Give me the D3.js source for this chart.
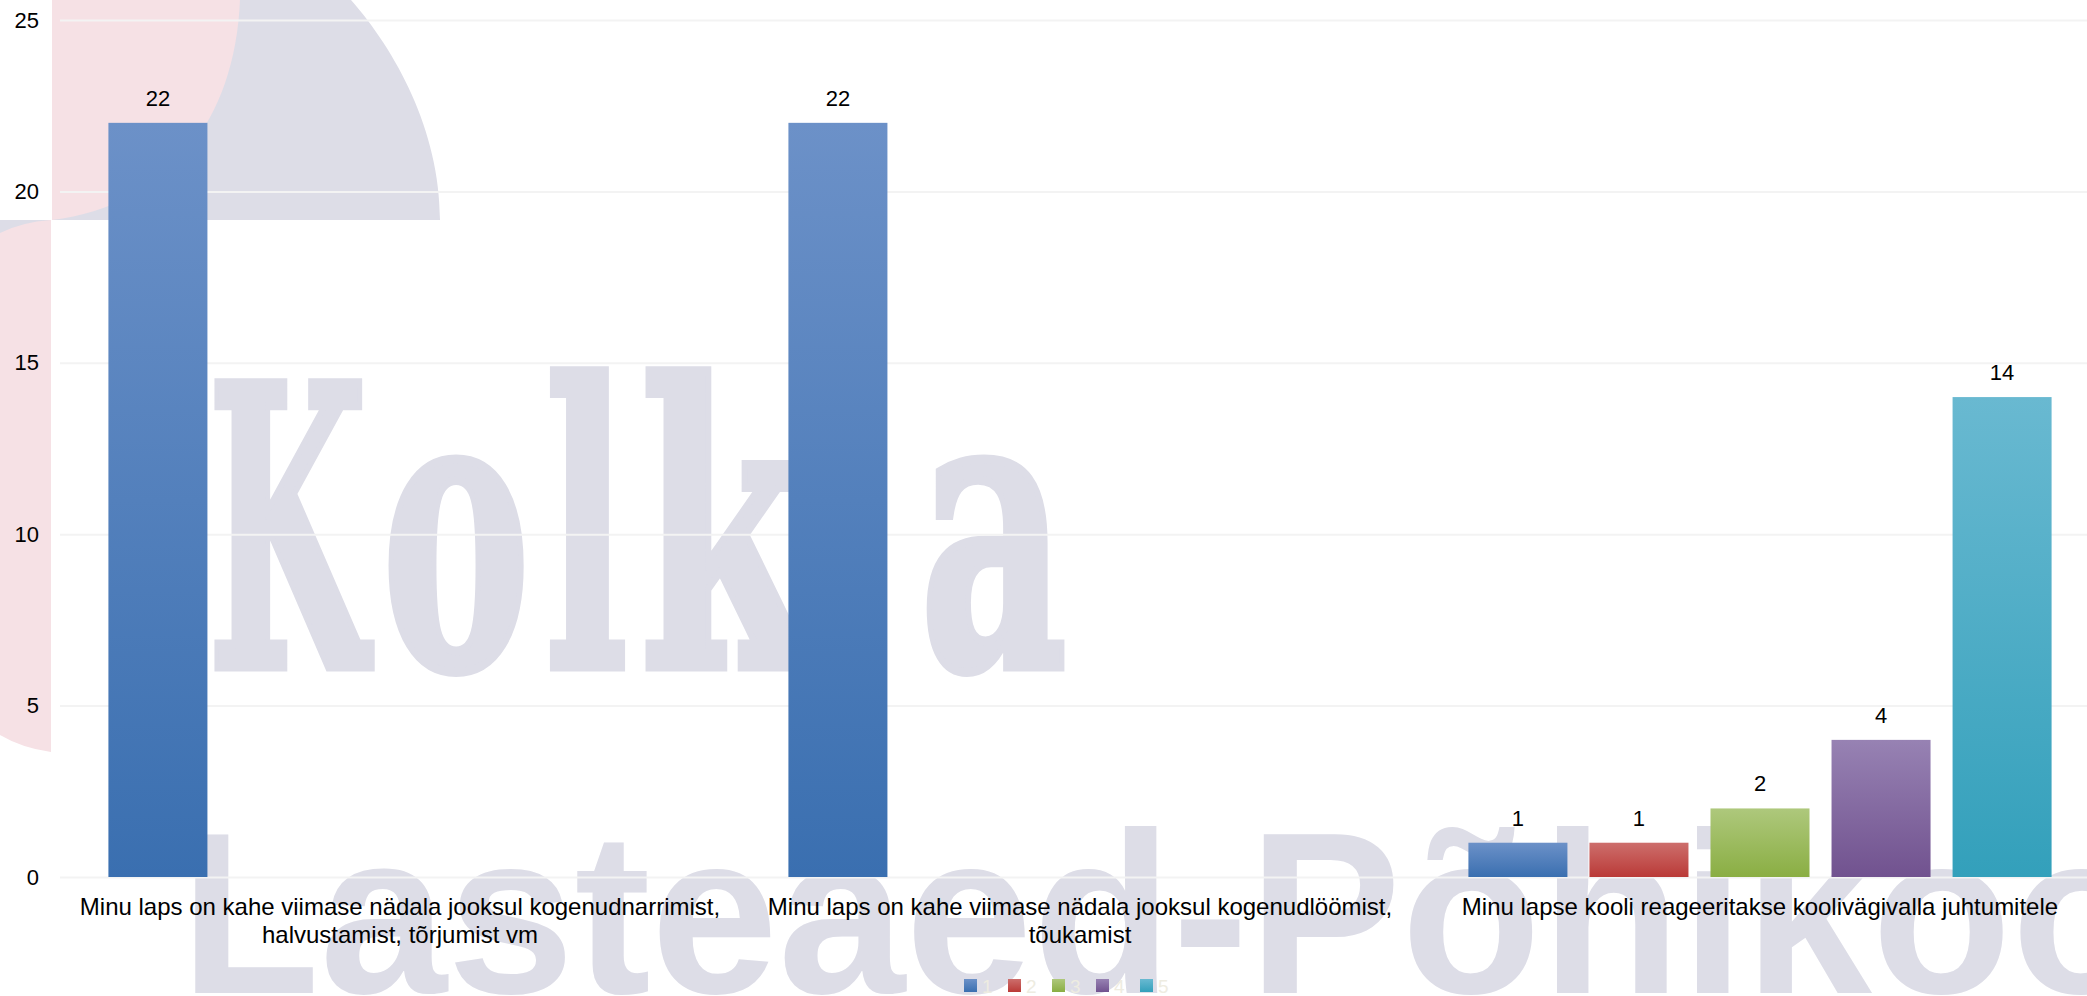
<!DOCTYPE html>
<html><head><meta charset="utf-8">
<script src="https://cdn.jsdelivr.net/npm/d3@7"></script>
<style>html,body{margin:0;padding:0;background:#fff;overflow:hidden}</style>
</head><body>
<svg id="c" width="2087" height="996" xmlns="http://www.w3.org/2000/svg"></svg>
<script>
// ---- data ----
const categories = [
  "Minu laps on kahe viimase nädala jooksul kogenudnarrimist,\nhalvustamist, tõrjumist vm",
  "Minu laps on kahe viimase nädala jooksul kogenudlöömist,\ntõukamist",
  "Minu lapse kooli reageeritakse koolivägivalla juhtumitele"
];
const seriesNames = ["1", "2", "3", "4", "5"];
const series1 = [22, 22, 1];
const series2 = [0, 0, 1];
const series3 = [0, 0, 2];
const series4 = [0, 0, 4];
const series5 = [0, 0, 14];
const yTicks = [0, 5, 10, 15, 20, 25];
const seriesValues = [series1, series2, series3, series4, series5];
const gradTop = ["#6c91c8", "#cd6e6c", "#aec87c", "#9782b3", "#69b9d1"];
const gradBottom = ["#3a6fb0", "#ba3a37", "#8aae43", "#71528f", "#33a0bb"];

const W = 2087, H = 996;
const svg = d3.select("#c");
const FONT = "'Liberation Sans', Arial, Helvetica, sans-serif";

// gradients
const defs = svg.append("defs");
seriesNames.forEach((s, i) => {
  const g = defs.append("linearGradient").attr("id", "g" + i)
    .attr("x1", 0).attr("y1", 0).attr("x2", 0).attr("y2", 1);
  g.append("stop").attr("offset", "0%").attr("stop-color", gradTop[i]);
  g.append("stop").attr("offset", "100%").attr("stop-color", gradBottom[i]);
});

// ---- background watermark (decorative logo) ----
const wm = svg.append("g").attr("class", "watermark");
const PINK = "#f6e1e5", LAV = "#dddde7";
wm.append("rect").attr("x", 52).attr("y", 0).attr("width", 250).attr("height", 220).attr("fill", PINK);
wm.append("path").attr("fill", LAV)
  .attr("d", "M240,0 L351,0 C395,50 440,130 440,220 L52,220 C170,205 235,120 240,0 Z");
wm.append("path").attr("fill", PINK)
  .attr("d", "M0,220 L51,220 L51,752 Q22,748 0,735 Z");
wm.append("path").attr("fill", LAV)
  .attr("d", "M0,220 L51,220 Q22,222 0,233 Z");
const logoLetters = [
  { ch: "K", x0: 205, x1: 368 },
  { ch: "o", x0: 379, x1: 531 },
  { ch: "l", x0: 542, x1: 629 },
  { ch: "k", x0: 637, x1: 810 },
  { ch: "j", x0: 815, x1: 893 },
  { ch: "a", x0: 917, x1: 1068 }
];
logoLetters.forEach(l => {
  wm.append("text").text(l.ch)
    .attr("x", l.x0 + 3).attr("y", 667)
    .attr("font-family", "'DejaVu Serif', serif").attr("font-weight", "bold")
    .attr("font-size", 390)
    .attr("textLength", l.x1 - l.x0 - 4).attr("lengthAdjust", "spacingAndGlyphs")
    .attr("fill", LAV).attr("stroke", LAV).attr("stroke-width", 9)
    .attr("stroke-linejoin", "miter");
});
wm.append("text").text("Lasteaed-Põhikool")
  .attr("x", 180).attr("y", 993)
  .attr("font-family", FONT).attr("font-weight", "bold")
  .attr("font-size", 230)
  .attr("textLength", 2035).attr("lengthAdjust", "spacingAndGlyphs")
  .attr("fill", LAV);

// ---- scales ----
const x0 = d3.scaleBand().domain(d3.range(categories.length)).range([60, 2100]).padding(0);
const x1 = d3.scaleBand().domain(seriesNames).range([0, x0.bandwidth()])
  .paddingInner(0.182).paddingOuter(0.4);
const y = d3.scaleLinear().domain([0, 25]).range([877, 20]);

// gridlines
const grid = svg.append("g").attr("transform", "translate(60,0)")
  .call(d3.axisLeft(y).tickValues(yTicks).tickSize(-(W - 60)).tickFormat(""));
grid.select(".domain").remove();
grid.selectAll("line").attr("stroke", "#f3f3f3").attr("stroke-width", 2);

// y axis labels
const ya = svg.append("g").attr("transform", "translate(39,0)")
  .call(d3.axisLeft(y).tickValues(yTicks).tickSize(0).tickPadding(0));
ya.select(".domain").remove();
ya.selectAll("text").attr("font-family", FONT).attr("font-size", 22).attr("fill", "#000");

// bars
const groups = svg.append("g").selectAll("g").data(categories).join("g")
  .attr("transform", (d, i) => `translate(${x0(i)},0)`);
groups.each(function (cat, ci) {
  const g = d3.select(this);
  const vals = seriesNames.map((s, si) => ({ s, si, v: seriesValues[si][ci] }));
  g.selectAll("rect").data(vals.filter(d => d.v > 0)).join("rect")
    .attr("x", d => x1(d.s)).attr("width", x1.bandwidth())
    .attr("y", d => y(d.v)).attr("height", d => y(0) - y(d.v))
    .attr("fill", d => `url(#g${d.si})`);
  g.selectAll("text.lbl").data(vals.filter(d => d.v > 0)).join("text")
    .attr("class", "lbl")
    .attr("x", d => x1(d.s) + x1.bandwidth() / 2)
    .attr("y", d => y(d.v) - 17)
    .attr("text-anchor", "middle")
    .attr("font-family", FONT).attr("font-size", 22).attr("fill", "#000")
    .text(d => d.v);
});

// category labels
categories.forEach((c, i) => {
  const t = svg.append("text")
    .attr("text-anchor", "middle")
    .attr("font-family", FONT).attr("font-size", 24).attr("fill", "#000");
  const cx = x0(i) + x0.bandwidth() / 2;
  c.split("\n").forEach((line, li) => {
    t.append("tspan").attr("x", cx).attr("y", 915 + li * 28).text(line);
  });
});

// legend
const leg = svg.append("g");
seriesNames.forEach((s, i) => {
  const lx = 964 + i * 44;
  leg.append("rect").attr("x", lx).attr("y", 979).attr("width", 13).attr("height", 13)
    .attr("fill", `url(#g${i})`);
  leg.append("text").attr("x", lx + 18).attr("y", 993)
    .attr("font-family", FONT).attr("font-size", 19).attr("fill", "#eeece1").text(s);
});
</script>
</body></html>
